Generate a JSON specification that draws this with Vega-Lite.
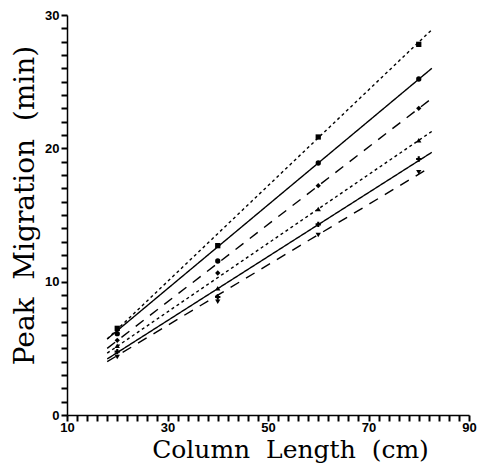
{
  "$schema": "https://vega.github.io/schema/vega-lite/v6.json",
  "autosize": "none",
  "width": 402,
  "height": 400,
  "padding": {"left": 67, "top": 15, "right": 8, "bottom": 51},
  "background": "white",
  "config": {"view": {"stroke": null}, "axis": {"ticks": true, "tickColor": "black", "tickWidth": 2, "tickSize": 6}},
  "datasets": {
    "fits": [
      {"series": "S1", "x": 18, "y": 5.7}, {"series": "S1", "x": 82.6, "y": 28.9},
      {"series": "S2", "x": 18, "y": 5.7}, {"series": "S2", "x": 82.6, "y": 26.0},
      {"series": "S3", "x": 18, "y": 5.0}, {"series": "S3", "x": 82.6, "y": 23.75},
      {"series": "S4", "x": 18, "y": 4.64}, {"series": "S4", "x": 82.6, "y": 21.27},
      {"series": "S5", "x": 18, "y": 4.2}, {"series": "S5", "x": 82.6, "y": 19.7},
      {"series": "S6", "x": 18, "y": 4.0}, {"series": "S6", "x": 81.5, "y": 18.4}
    ],
    "obs": [
      {"series": "S1", "x": 20, "y": 6.5}, {"series": "S1", "x": 40, "y": 12.7}, {"series": "S1", "x": 60, "y": 20.85}, {"series": "S1", "x": 80, "y": 27.8},
      {"series": "S2", "x": 20, "y": 6.1}, {"series": "S2", "x": 40, "y": 11.55}, {"series": "S2", "x": 60, "y": 18.9}, {"series": "S2", "x": 80, "y": 25.2},
      {"series": "S3", "x": 20, "y": 5.6}, {"series": "S3", "x": 40, "y": 10.65}, {"series": "S3", "x": 60, "y": 17.2}, {"series": "S3", "x": 80, "y": 23.0},
      {"series": "S4", "x": 20, "y": 5.2}, {"series": "S4", "x": 40, "y": 9.5}, {"series": "S4", "x": 60, "y": 15.45}, {"series": "S4", "x": 80, "y": 20.6},
      {"series": "S5", "x": 20, "y": 4.75}, {"series": "S5", "x": 40, "y": 8.85}, {"series": "S5", "x": 60, "y": 14.3}, {"series": "S5", "x": 80, "y": 19.2},
      {"series": "S6", "x": 20, "y": 4.35}, {"series": "S6", "x": 40, "y": 8.5}, {"series": "S6", "x": 60, "y": 13.5}, {"series": "S6", "x": 80, "y": 18.2}
    ]
  },
  "encoding": {
    "x": {
      "field": "x", "type": "quantitative",
      "scale": {"domain": [10, 90], "nice": false, "zero": false},
      "axis": {
        "values": [10,12,14,16,18,20,22,24,26,28,30,32,34,36,38,40,42,44,46,48,50,52,54,56,58,60,62,64,66,68,70,72,74,76,78,80,82,84,86,88,90],
        "labelExpr": "(datum.value - 10) % 20 === 0 ? datum.label : ''",
        "labelOverlap": false, "labelBound": false, "labelFlush": false,
        "labelFont": "Liberation Sans", "labelFontWeight": "bold", "labelFontSize": 13, "labelColor": "black", "labelPadding": 0,
        "domainColor": "black", "domainWidth": 1.5, "grid": false,
        "title": "Column\u00a0\u00a0Length\u00a0\u00a0(cm)",
        "titleFont": "DejaVu Serif", "titleFontSize": 25, "titleFontWeight": "normal", "titleColor": "black",
        "titleX": 223, "titleY": 42, "titleAlign": "center", "titleBaseline": "alphabetic"
      }
    },
    "y": {
      "field": "y", "type": "quantitative",
      "scale": {"domain": [0, 30], "nice": false},
      "axis": {
        "values": [0,1,2,3,4,5,6,7,8,9,10,11,12,13,14,15,16,17,18,19,20,21,22,23,24,25,26,27,28,29,30],
        "labelExpr": "datum.value % 10 === 0 ? datum.label : ''",
        "labelOverlap": false, "labelBound": false, "labelFlush": false,
        "labelFont": "Liberation Sans", "labelFontWeight": "bold", "labelFontSize": 13, "labelColor": "black", "labelPadding": 2,
        "domainColor": "black", "domainWidth": 1.5, "grid": false,
        "title": "Peak\u00a0\u00a0Migration\u00a0\u00a0(min)",
        "titleFont": "DejaVu Serif", "titleFontSize": 28, "titleFontWeight": "normal", "titleColor": "black",
        "titleX": -34, "titleY": 190, "titleAngle": 270, "titleAlign": "center", "titleBaseline": "alphabetic"
      }
    }
  },
  "layer": [
    {
      "data": {"name": "fits"},
      "mark": {"type": "line", "color": "black", "strokeWidth": 1.4},
      "encoding": {
        "strokeDash": {
          "field": "series", "type": "nominal",
          "scale": {"domain": ["S1","S2","S3","S4","S5","S6"], "range": [[3,3],[1,0],[10,8],[3,3],[1,0],[10,8]]},
          "legend": null
        }
      }
    },
    {
      "data": {"name": "obs"},
      "mark": {"type": "point", "filled": true, "color": "black", "size": 28, "opacity": 1},
      "encoding": {
        "shape": {
          "field": "series", "type": "nominal",
          "scale": {"domain": ["S1","S2","S3","S4","S5","S6"], "range": ["square","circle","diamond","triangle-up","cross","triangle-down"]},
          "legend": null
        }
      }
    }
  ]
}
